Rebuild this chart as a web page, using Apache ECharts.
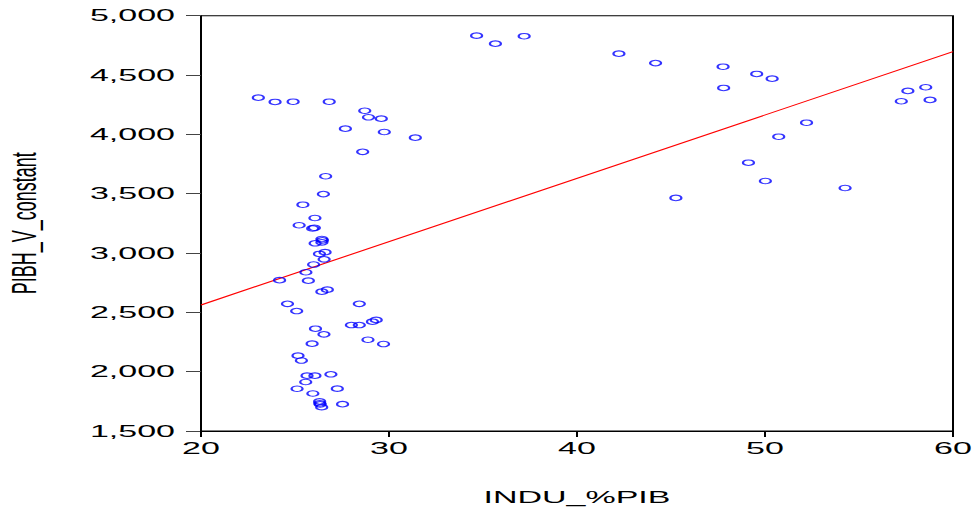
<!DOCTYPE html>
<html>
<head>
<meta charset="utf-8">
<script src="https://cdn.jsdelivr.net/npm/echarts@6/dist/echarts.min.js"></script>
<style>
html,body{margin:0;padding:0;background:#fff;overflow:hidden;width:974px;height:518px;}
#chart{width:487px;height:518px;transform:scaleX(2);transform-origin:0 0;}
</style>
</head>
<body>
<div id="chart"></div>
<script>
// INDU_%PIB (x) values
const induPib = [
  23.05, 23.94, 24.90, 26.82, 28.71, 28.91, 29.59, 27.68, 29.75, 31.40,
  28.60, 26.63, 26.51, 25.42, 26.06, 25.22, 25.94, 26.03, 26.43, 26.46,
  26.43, 26.07, 26.60, 26.30, 26.55, 25.99, 25.58, 24.18, 25.71, 26.43,
  26.72, 24.60, 28.42, 25.09, 28.00, 28.42, 29.12, 29.32, 26.09, 26.54,
  28.88, 29.71, 25.91, 25.16, 25.34, 25.64, 26.06, 26.91, 25.57, 25.11,
  27.25, 25.95, 26.31, 26.32, 26.34, 26.42, 27.53,
  34.66, 35.66, 37.19, 42.23, 44.18, 47.77, 49.56, 50.38, 47.80, 57.60,
  58.55, 57.25, 58.78, 52.21, 50.73, 49.12, 50.02, 54.26, 45.26
];
// PIBH_V_constant (y) values
const pibhV = [
  4309, 4273, 4275, 4275, 4199, 4144, 4132, 4048, 4020, 3972,
  3853, 3647, 3497, 3407, 3295, 3234, 3207, 3213, 3118, 3107,
  3090, 3082, 3007, 2992, 2947, 2903, 2838, 2771, 2767, 2674,
  2691, 2572, 2572, 2511, 2393, 2393, 2421, 2436, 2362, 2315,
  2269, 2233, 2236, 2135, 2094, 1966, 1966, 1978, 1913, 1856,
  1857, 1816, 1749, 1734, 1725, 1701, 1726,
  4832, 4764, 4827, 4680, 4601, 4570, 4509, 4469, 4391, 4366,
  4397, 4279, 4290, 4098, 3980, 3761, 3607, 3548, 3464
];
// Fitted regression line endpoints
const fitX = [20, 60];
const fitY = [2562, 4697];

const xTicks = [20, 30, 40, 50, 60];
const yTicks = [1500, 2000, 2500, 3000, 3500, 4000, 4500, 5000];

const scatterData = induPib.map((x, i) => [x, pibhV[i]]);
const lineData = fitX.map((x, i) => [x, fitY[i]]);

const chart = echarts.init(document.getElementById('chart'), null, {renderer: 'svg'});
const font = 'Arial, "Liberation Sans", Helvetica, sans-serif';
chart.setOption({
  animation: false,
  backgroundColor: '#fff',
  grid: {
    left: 100.5, right: 10.5, top: 15.7, bottom: 87,
    containLabel: false,
    outerBoundsMode: 'none',
    show: true, borderColor: '#000', borderWidth: 1, backgroundColor: 'transparent'
  },
  xAxis: {
    type: 'value',
    min: xTicks[0], max: xTicks[xTicks.length - 1], interval: 10,
    name: 'INDU_%PIB',
    nameLocation: 'middle',
    nameGap: 58,
    nameTextStyle: {fontFamily: font, fontSize: 17, color: '#000'},
    axisLine: {show: true, onZero: false, lineStyle: {color: '#000', width: 1}},
    axisTick: {show: true, inside: false, length: 6, lineStyle: {color: '#000'}},
    axisLabel: {fontFamily: font, fontSize: 17, color: '#000', margin: 9},
    splitLine: {show: false}
  },
  yAxis: {
    type: 'value',
    min: yTicks[0], max: yTicks[yTicks.length - 1], interval: 500,
    name: 'PIBH_V_constant',
    nameLocation: 'middle',
    nameGap: 80,
    nameRotate: 90,
    nameTextStyle: {fontFamily: font, fontSize: 18, color: '#000'},
    axisLine: {show: true, onZero: false, lineStyle: {color: '#000', width: 1}},
    axisTick: {show: true, inside: false, length: 7.5, lineStyle: {color: '#444'}},
    axisLabel: {
      fontFamily: font, fontSize: 17, color: '#000', margin: 13,
      formatter: v => v.toLocaleString('en-US')
    },
    splitLine: {show: false}
  },
  series: [
    {
      type: 'line',
      data: lineData,
      showSymbol: false,
      symbol: 'none',
      lineStyle: {color: '#ff0000', width: 1},
      z: 1
    },
    {
      type: 'scatter',
      data: scatterData,
      symbol: 'circle',
      symbolSize: 5.5,
      itemStyle: {color: 'transparent', borderColor: '#0000ff', borderWidth: 1.1},
      z: 2
    }
  ]
});
</script>
</body>
</html>
